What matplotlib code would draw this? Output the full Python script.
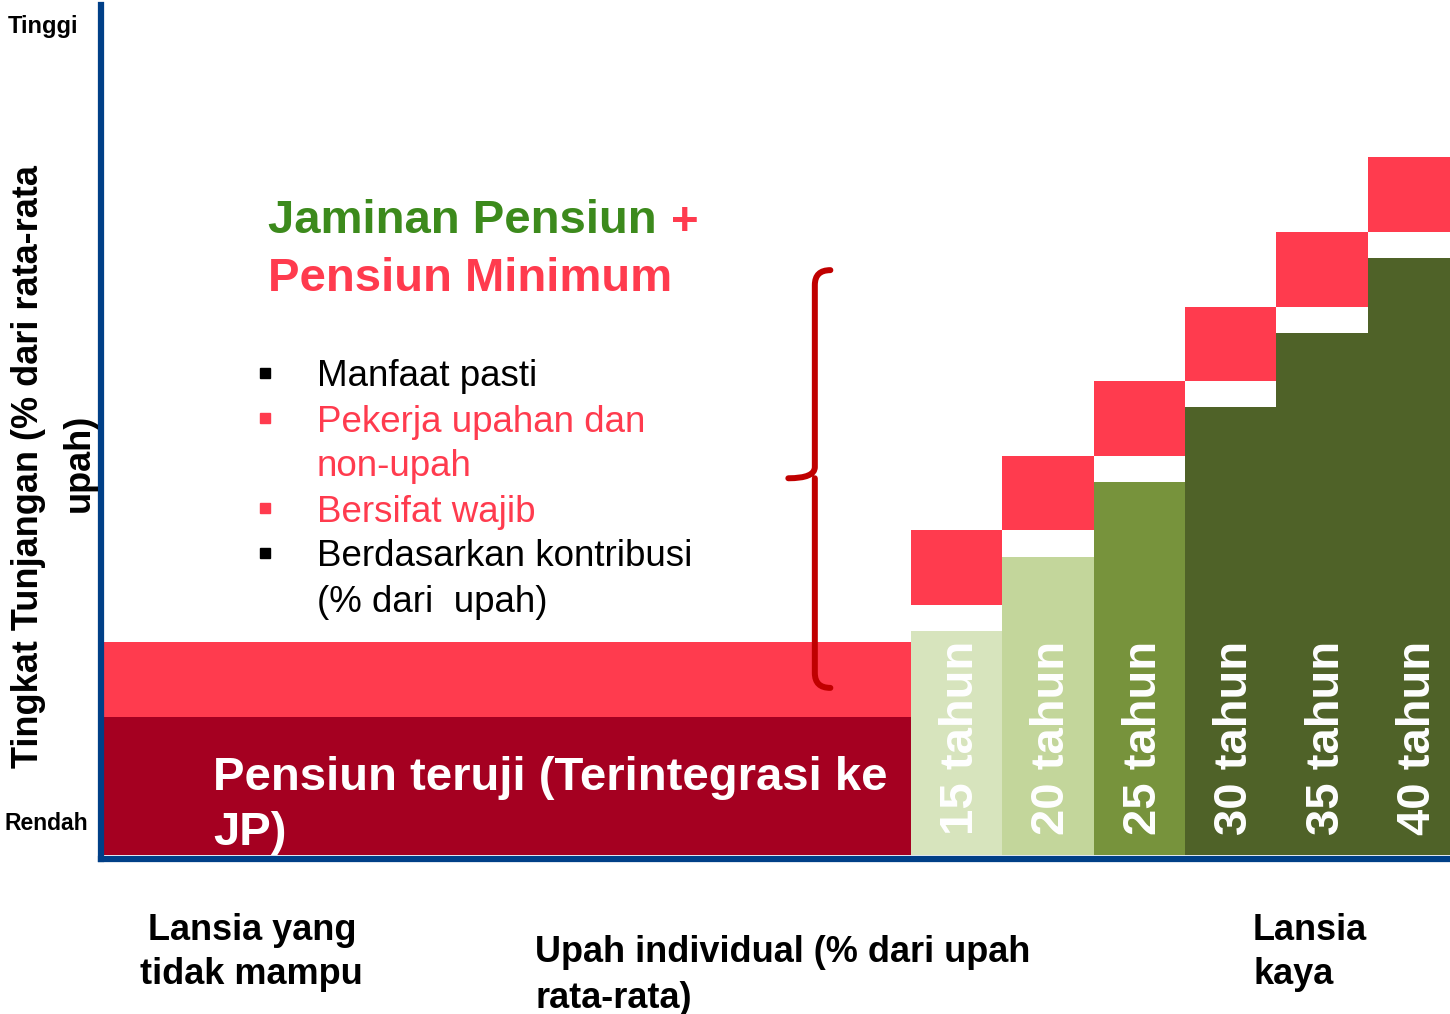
import matplotlib
matplotlib.use("Agg")
import matplotlib.pyplot as plt
from matplotlib.path import Path
from matplotlib.patches import PathPatch
from matplotlib.lines import Line2D

plt.rcParams['font.family'] = ['Liberation Sans', 'DejaVu Sans']

# ---------------- data ----------------
years = ["15 tahun", "20 tahun", "25 tahun", "30 tahun", "35 tahun", "40 tahun"]
jp_level = [3.0, 4.0, 5.0, 6.0, 7.0, 8.0]          # green (Jaminan Pensiun) top
min_bottom = [3.35, 4.35, 5.35, 6.35, 7.35, 8.35]  # red block (Pensiun Minimum) bottom
min_height = [1.0, 1.0, 1.0, 1.0, 1.0, 1.0]
jp_colors = ["#D7E4BD", "#C3D69B", "#77933C", "#4F6228", "#4F6228", "#4F6228"]
teruji_level = 1.85      # Pensiun teruji band top
minimum_level = 2.855    # Pensiun Minimum band top (left part)
teruji_width = 8.86      # width of left band in column units

bullets = ["Manfaat pasti", "Pekerja upahan dan", "non-upah", "Bersifat wajib",
           "Berdasarkan kontribusi", "(% dari  upah)"]
bullet_colors = ["black", "#FF3B4E", "#FF3B4E", "#FF3B4E", "black", "black"]
bullet_marks = [True, True, False, True, True, False]

W, H = 1450, 1014
PINK = "#FF3B4E"
DARKRED = "#A50021"
BLUE = "#003F87"
GREEN_T = "#3C8A1C"
DY = 3  # vertical text offset correction

fig = plt.figure(figsize=(W / 100, H / 100), dpi=100)
ax_l, ax_r, ax_t, ax_b = 101, 1450, 5, 859
ax = fig.add_axes([ax_l / W, 1 - ax_b / H, (ax_r - ax_l) / W, (ax_b - ax_t) / H])
col_w_px = 91.4
y_px = 74.6
ax.set_xlim(0, (ax_r - ax_l) / col_w_px)
ax.set_ylim(-(ax_b - 855) / y_px, (855 - ax_t) / y_px)
for s in ["top", "right"]:
    ax.spines[s].set_visible(False)
for s in ["left", "bottom"]:
    ax.spines[s].set_color(BLUE)
    ax.spines[s].set_linewidth(4.5)
    ax.spines[s].set_zorder(10)
ax.set_xticks([])
ax.set_yticks([])

# left band
ax.bar(0, teruji_level, width=teruji_width, align="edge", color=DARKRED, zorder=2)
ax.bar(0, minimum_level - teruji_level, bottom=teruji_level, width=teruji_width,
       align="edge", color=PINK, zorder=2)

# columns
xs = [teruji_width + i for i in range(len(years))]
ax.bar(xs, jp_level, width=1.0, align="edge", color=jp_colors, zorder=2)
ax.bar(xs, min_height, bottom=min_bottom, width=1.0, align="edge", color=PINK, zorder=2)
for x, lab in zip(xs, years):
    ax.text(x + 0.55, 0.27, lab, rotation=90, ha="center", va="bottom",
            color="white", fontsize=34, fontweight="bold", zorder=3)

# brace
bx, bl, br = 7.81, 7.52, 7.98
yt, ym, yb = 7.84, 5.05, 2.24
verts = [(br, yt), (bx, yt), (bx, yt - 0.2),
         (bx, ym + 0.15), (bx, ym), (bl, ym),
         (bx, ym), (bx, ym - 0.15),
         (bx, yb + 0.2), (bx, yb), (br, yb)]
codes = [Path.MOVETO, Path.CURVE3, Path.CURVE3,
         Path.LINETO, Path.CURVE3, Path.CURVE3,
         Path.MOVETO, Path.LINETO,
         Path.LINETO, Path.CURVE3, Path.CURVE3]
ax.add_patch(PathPatch(Path(verts, codes), fill=False, edgecolor="#C00000",
                       lw=4.3, capstyle="round", joinstyle="round", zorder=4))


def ftext(xp, yp, s, **kw):
    fig.text(xp / W, 1 - (yp + DY) / H, s, **kw)


# texts
ftext(8, 23, "Tinggi", fontsize=17, fontweight="bold", va="center", ha="left")
ftext(5, 820, "Rendah", fontsize=16.5, fontweight="bold", va="center", ha="left")
fig.text(29 / W, 1 - 467 / H, "Tingkat Tunjangan (% dari rata-rata", fontsize=26,
         fontweight="bold", rotation=90, ha="center", va="center")
fig.text(79 / W, 1 - 463 / H, "upah)", fontsize=26, fontweight="bold",
         rotation=90, ha="center", va="center")

ftext(268, 218, "Jaminan Pensiun", fontsize=34, fontweight="bold", color=GREEN_T,
      ha="left", va="center")
ftext(671, 220, "+", fontsize=34, fontweight="bold", color=PINK, ha="left", va="center")
ftext(268, 276, "Pensiun Minimum", fontsize=34, fontweight="bold", color=PINK,
      ha="left", va="center")

for i, (txt, c, m) in enumerate(zip(bullets, bullet_colors, bullet_marks)):
    yy = 374 + 45 * i
    ftext(317, yy, txt, fontsize=26.5, color=c, ha="left", va="center")
    if m:
        fig.add_artist(Line2D([265 / W], [1 - (yy - 1) / H], marker="s", ms=7.5,
                              color=c, transform=fig.transFigure, lw=0))

ftext(213, 775, "Pensiun teruji (Terintegrasi ke", fontsize=34, fontweight="bold",
      color="white", ha="left", va="center")
ftext(213, 830, "JP)", fontsize=34, fontweight="bold", color="white",
      ha="left", va="center")

ftext(252, 928, "Lansia yang", fontsize=26, fontweight="bold", ha="center", va="center")
ftext(251, 972, "tidak mampu", fontsize=26, fontweight="bold", ha="center", va="center")
ftext(535, 950, "Upah individual (% dari upah", fontsize=26, fontweight="bold",
      ha="left", va="center")
ftext(535, 995, "rata-rata)", fontsize=26, fontweight="bold", ha="left", va="center")
ftext(1253, 928, "Lansia", fontsize=26, fontweight="bold", ha="left", va="center")
ftext(1253, 972, "kaya", fontsize=26, fontweight="bold", ha="left", va="center")

fig.savefig("out.png", dpi=100, facecolor="white")
